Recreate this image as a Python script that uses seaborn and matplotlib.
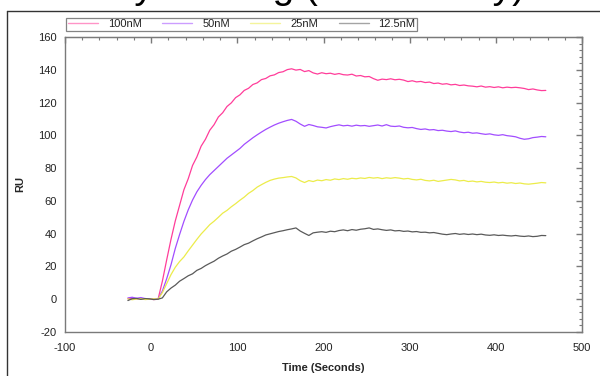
import numpy as np
import pandas as pd
import matplotlib
matplotlib.use("Agg")
import matplotlib.pyplot as plt
from matplotlib.ticker import MultipleLocator
from matplotlib.lines import Line2D
import seaborn as sns

# ---- data ----
time_s = np.arange(-27, 459, 5)  # sampling grid, seconds
labels = ["100nM", "50nM", "25nM", "12.5nM"]
colors = ["#ff3d9a", "#a24dff", "#ecec4a", "#5a5a5a"]

ru_100 = [0.3, 0.6, 0.2, 0.4, -0.1, 0.1, -0.2, 0.0, 11.0, 24.0, 36.5, 47.8, 57.3, 66.8, 73.5, 81.6,
          86.8, 93.4, 97.6, 103.1, 106.5, 111.2, 113.8, 117.6, 119.8, 123.0, 124.7, 127.4, 128.7, 131.0,
          132.0, 134.0, 134.7, 136.3, 136.9, 138.3, 138.8, 140.1, 140.6, 139.8, 140.2, 138.9, 139.5, 138.1,
          137.4, 138.2, 137.6, 137.9, 137.2, 137.7, 137.0, 136.8, 137.3, 136.2, 136.5, 135.7, 135.9, 134.6,
          133.6, 134.3, 134.0, 134.5, 133.9, 134.2, 133.7, 132.8, 133.3, 132.6, 132.9, 132.2, 132.5, 131.6,
          131.9, 131.2, 131.5, 130.8, 131.1, 130.4, 130.7, 130.2, 130.0, 129.6, 130.1, 129.4, 129.7, 129.2,
          129.6, 129.0, 129.4, 129.1, 129.3, 129.0, 128.6, 127.9, 128.3, 127.7, 127.3, 127.4]
ru_50 = [0.8, 1.2, 0.6, 1.0, 0.4, 0.2, 0.1, 0.0, 5.0, 12.5, 21.0, 31.0, 39.5, 47.5, 54.5, 60.5,
         65.5, 69.5, 73.0, 76.0, 78.5, 81.0, 83.5, 86.0, 88.0, 90.0, 92.0, 94.5, 96.5, 98.5,
         100.3, 102.0, 103.6, 105.0, 106.3, 107.4, 108.3, 109.1, 109.7, 108.6, 106.9, 105.5, 106.6, 106.0,
         105.2, 104.9, 104.5, 105.3, 105.9, 106.4, 105.8, 106.1, 105.6, 106.2, 105.8, 106.0, 105.5, 105.9,
         106.3, 105.7, 106.5, 105.6, 105.4, 105.7, 104.9, 104.6, 104.8, 104.1, 103.6, 103.9, 103.3, 103.5,
         102.9, 103.1, 102.6, 102.3, 102.7, 102.0, 101.6, 101.9, 101.3, 101.5, 101.0, 100.6, 100.9, 100.3,
         100.0, 100.4, 99.8, 99.5, 99.1, 98.2, 97.6, 97.9, 98.6, 98.9, 99.3, 99.1]
ru_25 = [0.2, -0.3, 0.1, 0.4, -0.2, 0.0, 0.3, 0.0, 4.0, 9.5, 15.0, 19.5, 23.0, 25.8, 29.5, 33.0,
         36.5, 39.8, 42.6, 45.5, 47.6, 50.0, 52.5, 54.2, 56.4, 58.3, 60.4, 62.3, 64.6, 66.3,
         68.4, 69.9, 71.3, 72.5, 73.3, 73.9, 74.2, 74.6, 74.9, 74.0, 72.3, 71.2, 72.4, 71.8,
         72.7, 72.3, 73.0, 72.6, 73.4, 73.0, 73.6, 73.2, 73.8, 73.5, 74.0, 73.7, 74.3, 73.9,
         74.2, 73.6, 74.1, 73.8, 74.2, 73.9, 73.4, 73.7, 73.1, 72.8, 73.2, 72.5, 72.2, 72.6,
         71.9, 72.3, 72.7, 73.1, 72.8, 72.2, 72.5, 71.8, 72.1, 71.6, 71.9, 71.4, 71.2, 71.5,
         71.0, 71.3, 70.8, 71.1, 70.6, 70.9, 70.4, 70.2, 70.5, 70.8, 71.2, 71.0]
ru_12_5 = [-0.8, 0.3, 0.5, -0.1, 0.4, 0.2, -0.2, 0.0, 0.8, 4.5, 6.8, 8.6, 11.0, 12.6, 14.3, 15.5,
           17.6, 18.8, 20.5, 21.9, 23.2, 25.0, 26.4, 27.6, 29.3, 30.4, 31.8, 33.3, 34.2, 35.6,
           36.9, 38.0, 39.2, 39.9, 40.6, 41.3, 41.8, 42.4, 42.9, 43.5, 41.6, 40.2, 38.9, 40.5,
           40.9, 41.2, 40.8, 41.5, 41.2, 41.9, 42.3, 41.8, 42.5, 42.1, 42.7, 43.0, 43.5, 42.6,
           42.9, 42.4, 42.0, 42.3, 41.7, 41.9, 41.4, 41.6, 41.1, 41.3, 40.8, 40.9, 40.5, 40.7,
           40.2, 39.7, 39.4, 39.8, 40.1, 39.6, 39.9, 39.5, 39.8, 39.4, 39.7, 39.2, 39.0, 39.3,
           38.9, 39.1, 38.8, 38.6, 38.9, 38.5, 38.3, 38.6, 38.2, 38.4, 38.9, 38.8]

frames = []
for lab, vals in zip(labels, [ru_100, ru_50, ru_25, ru_12_5]):
    frames.append(pd.DataFrame({"Time": time_s, "RU": vals, "Conc": lab}))
df = pd.concat(frames, ignore_index=True)

# ---- figure ----
sns.set_style("white")
plt.rcParams["font.family"] = ["Liberation Sans", "DejaVu Sans"]
plt.rcParams["axes.unicode_minus"] = False

fig = plt.figure(figsize=(6.0, 3.76), dpi=100)
ax = fig.add_axes([65 / 600, 1 - 332 / 376, (582 - 65) / 600, (332 - 37) / 376])

sns.lineplot(data=df, x="Time", y="RU", hue="Conc", hue_order=labels,
             palette=dict(zip(labels, colors)), estimator=None, sort=False,
             linewidth=0.9, legend=False, ax=ax)

ax.set_xlim(-100, 500)
ax.set_ylim(-20, 160)
ax.xaxis.set_major_locator(MultipleLocator(100))
ax.xaxis.set_minor_locator(MultipleLocator(20))
ax.yaxis.set_major_locator(MultipleLocator(20))
ax.yaxis.set_minor_locator(MultipleLocator(4))

spine_c = "#7a7a7a"
for s in ax.spines.values():
    s.set_color(spine_c)
    s.set_linewidth(1.0)

ax.tick_params(axis="both", which="major", direction="inout", length=6, width=1,
               color=spine_c, labelsize=8, labelcolor="#222222", pad=3)
ax.tick_params(axis="both", which="minor", direction="inout", length=3, width=0.8, color=spine_c)
ax.tick_params(axis="x", which="major", pad=5)

# inward ticks on top and right
secx = ax.secondary_xaxis("top")
secx.xaxis.set_major_locator(MultipleLocator(100))
secx.xaxis.set_minor_locator(MultipleLocator(20))
secx.tick_params(which="major", direction="in", length=4, width=1, color=spine_c, labeltop=False)
secx.tick_params(which="minor", direction="in", length=2, width=0.8, color=spine_c)
secx.spines["top"].set_color(spine_c)
secy = ax.secondary_yaxis("right")
secy.yaxis.set_major_locator(MultipleLocator(20))
secy.yaxis.set_minor_locator(MultipleLocator(4))
secy.tick_params(which="major", direction="in", length=4, width=1, color=spine_c, labelright=False)
secy.tick_params(which="minor", direction="in", length=2, width=0.8, color=spine_c)
secy.spines["right"].set_color(spine_c)

ax.set_xlabel("Time (Seconds)", fontsize=8, fontweight="bold", labelpad=7)
ax.set_ylabel("RU", fontsize=8, fontweight="bold", labelpad=9)

# legend box at top
handles = [Line2D([0], [0], color=c, lw=1.0, alpha=0.55) for c in colors]
leg = fig.legend(handles, labels, loc="lower left", bbox_to_anchor=(66 / 600, 1 - 31 / 376),
                 ncol=4, fontsize=8, frameon=True, fancybox=False, borderpad=0.15,
                 handlelength=2.7, handletextpad=0.9, columnspacing=1.85,
                 borderaxespad=0)
leg.get_frame().set_edgecolor("#666666")
leg.get_frame().set_linewidth(0.9)
for t in leg.get_texts():
    t.set_color("#222222")

# outer frame lines
fig.add_artist(Line2D([7 / 600, 7 / 600], [0, 1 - 10.5 / 376], color="#333333", lw=1.0,
                      transform=fig.transFigure))
fig.add_artist(Line2D([7 / 600, 1], [1 - 10.5 / 376, 1 - 10.5 / 376], color="#333333", lw=1.0,
                      transform=fig.transFigure))

# cropped title (only its lower part is visible in the reference)
fig.text(0.47, 1 + 1.5 / 376, "Affinity Binding (SPR Assay)", ha="center", va="baseline",
         fontsize=28, color="black")

fig.savefig("out.png", dpi=100)
